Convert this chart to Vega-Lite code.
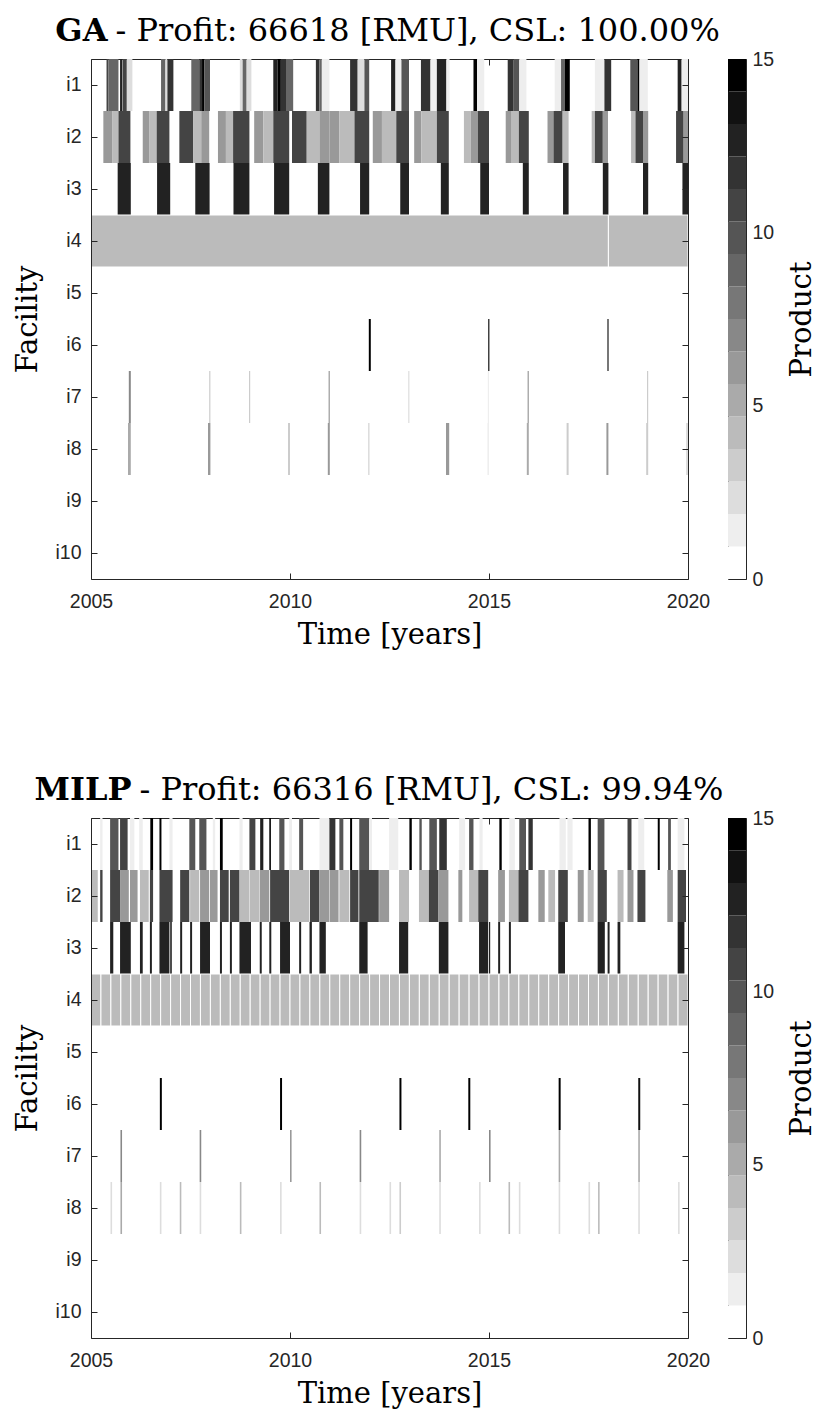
{
"$schema": "https://vega.github.io/schema/vega-lite/v6.json",
"background": "white",
"padding": {"left": 13, "top": 0, "right": 0, "bottom": 0},
"config": {
  "view": {"stroke": null},
  "axis": {"domainColor": "#262626", "tickColor": "#262626", "labelColor": "#262626", "titleColor": "#000000", "labelFont": "Liberation Sans", "labelFontSize": 19.5, "titleFont": "DejaVu Serif", "titleFontSize": 29, "titleFontWeight": "normal", "grid": false, "domainWidth": 1, "tickWidth": 1}
},
"datasets": {
"bands": [
{"lo":0,"hi":0.9375,"v":0},{"lo":0.9375,"hi":1.875,"v":1},{"lo":1.875,"hi":2.8125,"v":2},{"lo":2.8125,"hi":3.75,"v":3},{"lo":3.75,"hi":4.6875,"v":4},{"lo":4.6875,"hi":5.625,"v":5},{"lo":5.625,"hi":6.5625,"v":6},{"lo":6.5625,"hi":7.5,"v":7},{"lo":7.5,"hi":8.4375,"v":8},{"lo":8.4375,"hi":9.375,"v":9},{"lo":9.375,"hi":10.3125,"v":10},{"lo":10.3125,"hi":11.25,"v":11},{"lo":11.25,"hi":12.1875,"v":12},{"lo":12.1875,"hi":13.125,"v":13},{"lo":13.125,"hi":14.0625,"v":14},{"lo":14.0625,"hi":15,"v":15}
],
"ga": [
{"f":"i1","t0":2005.39,"t1":2005.44,"v":11},{"f":"i1","t0":2005.44,"t1":2005.69,"v":9},{"f":"i1","t0":2005.73,"t1":2005.78,"v":13},{"f":"i1","t0":2005.79,"t1":2005.90,"v":11},{"f":"i1","t0":2005.90,"t1":2006.04,"v":2},
{"f":"i1","t0":2006.76,"t1":2006.87,"v":9},{"f":"i1","t0":2006.87,"t1":2006.92,"v":2},{"f":"i1","t0":2006.92,"t1":2007.07,"v":12},
{"f":"i1","t0":2007.52,"t1":2007.72,"v":9},{"f":"i1","t0":2007.72,"t1":2007.79,"v":12},{"f":"i1","t0":2007.79,"t1":2007.85,"v":15},{"f":"i1","t0":2007.85,"t1":2007.99,"v":10},
{"f":"i1","t0":2008.74,"t1":2008.81,"v":2},{"f":"i1","t0":2008.81,"t1":2008.91,"v":9},{"f":"i1","t0":2008.91,"t1":2009.03,"v":2},
{"f":"i1","t0":2009.58,"t1":2009.69,"v":13},{"f":"i1","t0":2009.69,"t1":2009.77,"v":15},{"f":"i1","t0":2009.77,"t1":2009.90,"v":12},{"f":"i1","t0":2009.90,"t1":2010.08,"v":9},
{"f":"i1","t0":2010.65,"t1":2010.74,"v":12},{"f":"i1","t0":2010.74,"t1":2010.80,"v":9},{"f":"i1","t0":2010.80,"t1":2010.99,"v":1},
{"f":"i1","t0":2011.51,"t1":2011.70,"v":12},{"f":"i1","t0":2011.70,"t1":2011.87,"v":2},{"f":"i1","t0":2011.87,"t1":2011.99,"v":10},
{"f":"i1","t0":2012.54,"t1":2012.65,"v":13},{"f":"i1","t0":2012.65,"t1":2012.80,"v":1},{"f":"i1","t0":2012.80,"t1":2012.99,"v":10},
{"f":"i1","t0":2013.29,"t1":2013.53,"v":12},{"f":"i1","t0":2013.53,"t1":2013.69,"v":1},{"f":"i1","t0":2013.69,"t1":2013.93,"v":13},{"f":"i1","t0":2013.93,"t1":2014.01,"v":1},
{"f":"i1","t0":2014.61,"t1":2014.70,"v":15},{"f":"i1","t0":2014.70,"t1":2014.88,"v":1},
{"f":"i1","t0":2015.47,"t1":2015.62,"v":12},{"f":"i1","t0":2015.62,"t1":2015.76,"v":10},{"f":"i1","t0":2015.76,"t1":2015.94,"v":1},
{"f":"i1","t0":2016.65,"t1":2016.81,"v":1},{"f":"i1","t0":2016.81,"t1":2016.91,"v":9},{"f":"i1","t0":2016.91,"t1":2017.03,"v":15},
{"f":"i1","t0":2017.66,"t1":2017.90,"v":1},{"f":"i1","t0":2017.90,"t1":2018.07,"v":12},
{"f":"i1","t0":2018.55,"t1":2018.73,"v":10},{"f":"i1","t0":2018.73,"t1":2018.78,"v":15},{"f":"i1","t0":2018.78,"t1":2018.99,"v":1},
{"f":"i1","t0":2019.74,"t1":2019.84,"v":13},{"f":"i1","t0":2019.84,"t1":2020.00,"v":1},
{"f":"i2","t0":2005.31,"t1":2005.53,"v":6},{"f":"i2","t0":2005.53,"t1":2005.69,"v":4},{"f":"i2","t0":2005.69,"t1":2005.99,"v":11},
{"f":"i2","t0":2006.30,"t1":2006.46,"v":6},{"f":"i2","t0":2006.46,"t1":2006.65,"v":4},{"f":"i2","t0":2006.65,"t1":2006.97,"v":11},
{"f":"i2","t0":2007.22,"t1":2007.57,"v":11},{"f":"i2","t0":2007.57,"t1":2007.77,"v":4},{"f":"i2","t0":2007.77,"t1":2007.97,"v":6},
{"f":"i2","t0":2008.19,"t1":2008.39,"v":6},{"f":"i2","t0":2008.39,"t1":2008.57,"v":4},{"f":"i2","t0":2008.57,"t1":2008.98,"v":11},
{"f":"i2","t0":2009.10,"t1":2009.33,"v":6},{"f":"i2","t0":2009.33,"t1":2009.58,"v":4},{"f":"i2","t0":2009.58,"t1":2009.98,"v":11},
{"f":"i2","t0":2010.05,"t1":2010.42,"v":11},{"f":"i2","t0":2010.42,"t1":2010.74,"v":4},{"f":"i2","t0":2010.74,"t1":2010.99,"v":6},
{"f":"i2","t0":2010.99,"t1":2011.24,"v":6},{"f":"i2","t0":2011.24,"t1":2011.62,"v":4},{"f":"i2","t0":2011.62,"t1":2011.99,"v":11},
{"f":"i2","t0":2012.08,"t1":2012.31,"v":6},{"f":"i2","t0":2012.31,"t1":2012.67,"v":4},{"f":"i2","t0":2012.67,"t1":2012.99,"v":11},
{"f":"i2","t0":2013.12,"t1":2013.30,"v":6},{"f":"i2","t0":2013.30,"t1":2013.69,"v":4},{"f":"i2","t0":2013.69,"t1":2013.99,"v":11},
{"f":"i2","t0":2014.37,"t1":2014.54,"v":4},{"f":"i2","t0":2014.54,"t1":2014.72,"v":6},{"f":"i2","t0":2014.72,"t1":2015.00,"v":11},
{"f":"i2","t0":2015.42,"t1":2015.57,"v":6},{"f":"i2","t0":2015.57,"t1":2015.75,"v":4},{"f":"i2","t0":2015.75,"t1":2016.00,"v":11},
{"f":"i2","t0":2016.47,"t1":2016.62,"v":6},{"f":"i2","t0":2016.62,"t1":2016.85,"v":11},{"f":"i2","t0":2016.85,"t1":2017.00,"v":4},
{"f":"i2","t0":2017.58,"t1":2017.66,"v":4},{"f":"i2","t0":2017.66,"t1":2017.86,"v":11},{"f":"i2","t0":2017.86,"t1":2017.99,"v":6},
{"f":"i2","t0":2018.57,"t1":2018.68,"v":4},{"f":"i2","t0":2018.68,"t1":2018.87,"v":11},{"f":"i2","t0":2018.87,"t1":2019.00,"v":6},
{"f":"i2","t0":2019.70,"t1":2019.89,"v":11},{"f":"i2","t0":2019.89,"t1":2020.00,"v":6},
{"f":"i3","t0":2005.67,"t1":2006.00,"v":13},{"f":"i3","t0":2006.66,"t1":2006.99,"v":13},{"f":"i3","t0":2007.62,"t1":2007.98,"v":13},{"f":"i3","t0":2008.58,"t1":2008.98,"v":13},{"f":"i3","t0":2009.60,"t1":2009.98,"v":13},{"f":"i3","t0":2010.70,"t1":2010.99,"v":13},{"f":"i3","t0":2011.76,"t1":2011.99,"v":13},{"f":"i3","t0":2012.77,"t1":2012.99,"v":13},{"f":"i3","t0":2013.79,"t1":2013.99,"v":13},{"f":"i3","t0":2014.78,"t1":2015.00,"v":13},{"f":"i3","t0":2015.85,"t1":2016.00,"v":13},{"f":"i3","t0":2016.86,"t1":2017.00,"v":13},{"f":"i3","t0":2017.86,"t1":2018.00,"v":13},{"f":"i3","t0":2018.87,"t1":2019.00,"v":13},{"f":"i3","t0":2019.86,"t1":2020.00,"v":13},
{"f":"i4","t0":2005.00,"t1":2018.00,"v":4},{"f":"i4","t0":2018.00,"t1":2020.00,"v":4},
{"f":"i6","t0":2011.98,"t1":2012.03,"v":15},{"f":"i6","t0":2014.98,"t1":2015.01,"v":14},{"f":"i6","t0":2017.97,"t1":2018.01,"v":10},
{"f":"i7","t0":2005.95,"t1":2006.00,"v":7},{"f":"i7","t0":2007.97,"t1":2008.00,"v":3},{"f":"i7","t0":2008.97,"t1":2009.00,"v":3},{"f":"i7","t0":2010.97,"t1":2011.00,"v":6},{"f":"i7","t0":2012.97,"t1":2013.00,"v":2},{"f":"i7","t0":2014.97,"t1":2015.00,"v":1},{"f":"i7","t0":2015.97,"t1":2016.00,"v":6},{"f":"i7","t0":2018.97,"t1":2019.00,"v":3},
{"f":"i8","t0":2005.93,"t1":2006.00,"v":5},{"f":"i8","t0":2007.94,"t1":2008.00,"v":6},{"f":"i8","t0":2009.95,"t1":2010.00,"v":3},{"f":"i8","t0":2010.95,"t1":2011.00,"v":6},{"f":"i8","t0":2011.96,"t1":2012.00,"v":2},{"f":"i8","t0":2013.92,"t1":2014.00,"v":6},{"f":"i8","t0":2014.96,"t1":2015.00,"v":1},{"f":"i8","t0":2015.95,"t1":2016.00,"v":5},{"f":"i8","t0":2016.95,"t1":2017.00,"v":3},{"f":"i8","t0":2017.95,"t1":2018.00,"v":6},{"f":"i8","t0":2018.95,"t1":2019.00,"v":3},{"f":"i8","t0":2019.95,"t1":2020.00,"v":2}
],
"milp": [
{"f":"i1","t0":2005.23,"t1":2005.29,"v":1},{"f":"i1","t0":2005.48,"t1":2005.69,"v":10},{"f":"i1","t0":2005.73,"t1":2005.92,"v":11},{"f":"i1","t0":2005.98,"t1":2006.09,"v":1},{"f":"i1","t0":2006.21,"t1":2006.30,"v":1},{"f":"i1","t0":2006.49,"t1":2006.56,"v":15},{"f":"i1","t0":2006.72,"t1":2006.77,"v":15},{"f":"i1","t0":2006.97,"t1":2007.05,"v":1},{"f":"i1","t0":2007.47,"t1":2007.62,"v":10},{"f":"i1","t0":2007.72,"t1":2007.90,"v":10},{"f":"i1","t0":2008.06,"t1":2008.12,"v":1},{"f":"i1","t0":2008.24,"t1":2008.31,"v":15},{"f":"i1","t0":2008.73,"t1":2008.81,"v":1},{"f":"i1","t0":2008.98,"t1":2009.13,"v":11},{"f":"i1","t0":2009.25,"t1":2009.33,"v":13},{"f":"i1","t0":2009.48,"t1":2009.52,"v":15},{"f":"i1","t0":2009.73,"t1":2009.86,"v":10},{"f":"i1","t0":2009.98,"t1":2010.05,"v":1},{"f":"i1","t0":2010.23,"t1":2010.33,"v":10},{"f":"i1","t0":2010.74,"t1":2010.99,"v":1},{"f":"i1","t0":2010.99,"t1":2011.14,"v":12},{"f":"i1","t0":2011.24,"t1":2011.34,"v":10},{"f":"i1","t0":2011.51,"t1":2011.56,"v":15},{"f":"i1","t0":2011.74,"t1":2011.99,"v":10},{"f":"i1","t0":2011.99,"t1":2012.06,"v":1},
{"f":"i1","t0":2012.49,"t1":2012.72,"v":1},{"f":"i1","t0":2013.00,"t1":2013.06,"v":15},{"f":"i1","t0":2013.25,"t1":2013.31,"v":10},{"f":"i1","t0":2013.50,"t1":2013.69,"v":10},{"f":"i1","t0":2013.75,"t1":2013.94,"v":12},{"f":"i1","t0":2014.25,"t1":2014.40,"v":1},{"f":"i1","t0":2014.50,"t1":2014.61,"v":10},{"f":"i1","t0":2014.76,"t1":2014.84,"v":1},{"f":"i1","t0":2015.26,"t1":2015.32,"v":15},{"f":"i1","t0":2015.51,"t1":2015.65,"v":1},{"f":"i1","t0":2015.76,"t1":2015.93,"v":10},{"f":"i1","t0":2015.99,"t1":2016.10,"v":12},{"f":"i1","t0":2016.77,"t1":2016.93,"v":1},{"f":"i1","t0":2016.97,"t1":2017.10,"v":1},{"f":"i1","t0":2017.50,"t1":2017.56,"v":15},{"f":"i1","t0":2017.73,"t1":2017.90,"v":10},{"f":"i1","t0":2018.48,"t1":2018.58,"v":11},{"f":"i1","t0":2018.75,"t1":2018.90,"v":1},{"f":"i1","t0":2019.24,"t1":2019.29,"v":15},{"f":"i1","t0":2019.50,"t1":2019.57,"v":10},{"f":"i1","t0":2019.74,"t1":2019.91,"v":1},
{"f":"i2","t0":2005.00,"t1":2005.17,"v":4},{"f":"i2","t0":2005.23,"t1":2005.29,"v":11},{"f":"i2","t0":2005.48,"t1":2005.73,"v":11},{"f":"i2","t0":2005.73,"t1":2005.95,"v":6},{"f":"i2","t0":2005.98,"t1":2006.17,"v":6},{"f":"i2","t0":2006.23,"t1":2006.45,"v":4},{"f":"i2","t0":2006.48,"t1":2006.56,"v":11},{"f":"i2","t0":2006.72,"t1":2007.05,"v":11},{"f":"i2","t0":2007.24,"t1":2007.47,"v":11},{"f":"i2","t0":2007.49,"t1":2007.72,"v":4},{"f":"i2","t0":2007.74,"t1":2007.97,"v":6},{"f":"i2","t0":2007.99,"t1":2008.18,"v":6},{"f":"i2","t0":2008.24,"t1":2008.46,"v":11},{"f":"i2","t0":2008.49,"t1":2008.73,"v":11},{"f":"i2","t0":2008.74,"t1":2008.98,"v":4},{"f":"i2","t0":2008.99,"t1":2009.23,"v":4},{"f":"i2","t0":2009.24,"t1":2009.48,"v":6},{"f":"i2","t0":2009.50,"t1":2009.98,"v":11},{"f":"i2","t0":2010.00,"t1":2010.48,"v":4},{"f":"i2","t0":2010.50,"t1":2010.74,"v":11},{"f":"i2","t0":2010.75,"t1":2010.99,"v":6},{"f":"i2","t0":2011.00,"t1":2011.22,"v":6},{"f":"i2","t0":2011.24,"t1":2011.49,"v":4},{"f":"i2","t0":2011.51,"t1":2011.72,"v":11},{"f":"i2","t0":2011.74,"t1":2012.23,"v":11},{"f":"i2","t0":2012.24,"t1":2012.49,"v":6},
{"f":"i2","t0":2012.74,"t1":2012.99,"v":4},{"f":"i2","t0":2013.24,"t1":2013.49,"v":4},{"f":"i2","t0":2013.49,"t1":2013.73,"v":11},{"f":"i2","t0":2013.73,"t1":2013.98,"v":6},{"f":"i2","t0":2014.23,"t1":2014.33,"v":6},{"f":"i2","t0":2014.50,"t1":2014.73,"v":4},{"f":"i2","t0":2014.73,"t1":2014.98,"v":11},{"f":"i2","t0":2015.23,"t1":2015.40,"v":6},{"f":"i2","t0":2015.50,"t1":2015.74,"v":4},{"f":"i2","t0":2015.74,"t1":2015.99,"v":11},{"f":"i2","t0":2016.24,"t1":2016.40,"v":6},{"f":"i2","t0":2016.49,"t1":2016.66,"v":4},{"f":"i2","t0":2016.74,"t1":2016.98,"v":11},{"f":"i2","t0":2017.23,"t1":2017.38,"v":6},{"f":"i2","t0":2017.48,"t1":2017.63,"v":4},{"f":"i2","t0":2017.73,"t1":2017.96,"v":11},{"f":"i2","t0":2018.23,"t1":2018.38,"v":4},{"f":"i2","t0":2018.48,"t1":2018.63,"v":6},{"f":"i2","t0":2018.73,"t1":2018.93,"v":11},{"f":"i2","t0":2019.48,"t1":2019.62,"v":6},{"f":"i2","t0":2019.74,"t1":2019.95,"v":11},
{"f":"i3","t0":2005.48,"t1":2005.56,"v":13},{"f":"i3","t0":2005.73,"t1":2006.00,"v":13},{"f":"i3","t0":2006.23,"t1":2006.30,"v":13},{"f":"i3","t0":2006.48,"t1":2006.53,"v":13},{"f":"i3","t0":2006.72,"t1":2006.97,"v":13},{"f":"i3","t0":2006.99,"t1":2007.03,"v":13},{"f":"i3","t0":2007.24,"t1":2007.29,"v":13},{"f":"i3","t0":2007.49,"t1":2007.54,"v":13},{"f":"i3","t0":2007.74,"t1":2007.99,"v":13},{"f":"i3","t0":2008.24,"t1":2008.29,"v":13},{"f":"i3","t0":2008.49,"t1":2008.54,"v":13},{"f":"i3","t0":2008.73,"t1":2009.02,"v":13},{"f":"i3","t0":2009.24,"t1":2009.29,"v":13},{"f":"i3","t0":2009.48,"t1":2009.53,"v":13},{"f":"i3","t0":2009.75,"t1":2010.00,"v":13},{"f":"i3","t0":2010.23,"t1":2010.28,"v":13},{"f":"i3","t0":2010.49,"t1":2010.55,"v":13},{"f":"i3","t0":2010.74,"t1":2010.90,"v":13},{"f":"i3","t0":2011.74,"t1":2011.95,"v":13},{"f":"i3","t0":2012.74,"t1":2012.97,"v":13},{"f":"i3","t0":2013.74,"t1":2013.98,"v":13},{"f":"i3","t0":2014.75,"t1":2014.98,"v":13},{"f":"i3","t0":2015.00,"t1":2015.03,"v":13},{"f":"i3","t0":2015.23,"t1":2015.28,"v":13},{"f":"i3","t0":2015.50,"t1":2015.55,"v":13},{"f":"i3","t0":2016.74,"t1":2016.91,"v":13},{"f":"i3","t0":2017.73,"t1":2017.91,"v":13},{"f":"i3","t0":2017.98,"t1":2018.03,"v":13},{"f":"i3","t0":2018.23,"t1":2018.30,"v":13},{"f":"i3","t0":2019.74,"t1":2019.91,"v":13},
{"f":"i4","t0":2005.00,"t1":2005.25,"v":4},{"f":"i4","t0":2005.25,"t1":2005.50,"v":4},{"f":"i4","t0":2005.50,"t1":2005.75,"v":4},{"f":"i4","t0":2005.75,"t1":2006.00,"v":4},
{"f":"i4","t0":2006.00,"t1":2006.25,"v":4},{"f":"i4","t0":2006.25,"t1":2006.50,"v":4},{"f":"i4","t0":2006.50,"t1":2006.75,"v":4},{"f":"i4","t0":2006.75,"t1":2007.00,"v":4},
{"f":"i4","t0":2007.00,"t1":2007.25,"v":4},{"f":"i4","t0":2007.25,"t1":2007.50,"v":4},{"f":"i4","t0":2007.50,"t1":2007.75,"v":4},{"f":"i4","t0":2007.75,"t1":2008.00,"v":4},
{"f":"i4","t0":2008.00,"t1":2008.25,"v":4},{"f":"i4","t0":2008.25,"t1":2008.50,"v":4},{"f":"i4","t0":2008.50,"t1":2008.75,"v":4},{"f":"i4","t0":2008.75,"t1":2009.00,"v":4},
{"f":"i4","t0":2009.00,"t1":2009.25,"v":4},{"f":"i4","t0":2009.25,"t1":2009.50,"v":4},{"f":"i4","t0":2009.50,"t1":2009.75,"v":4},{"f":"i4","t0":2009.75,"t1":2010.00,"v":4},
{"f":"i4","t0":2010.00,"t1":2010.25,"v":4},{"f":"i4","t0":2010.25,"t1":2010.50,"v":4},{"f":"i4","t0":2010.50,"t1":2010.75,"v":4},{"f":"i4","t0":2010.75,"t1":2011.00,"v":4},
{"f":"i4","t0":2011.00,"t1":2011.25,"v":4},{"f":"i4","t0":2011.25,"t1":2011.50,"v":4},{"f":"i4","t0":2011.50,"t1":2011.75,"v":4},{"f":"i4","t0":2011.75,"t1":2012.00,"v":4},
{"f":"i4","t0":2012.00,"t1":2012.25,"v":4},{"f":"i4","t0":2012.25,"t1":2012.50,"v":4},{"f":"i4","t0":2012.50,"t1":2012.75,"v":4},{"f":"i4","t0":2012.75,"t1":2013.00,"v":4},
{"f":"i4","t0":2013.00,"t1":2013.25,"v":4},{"f":"i4","t0":2013.25,"t1":2013.50,"v":4},{"f":"i4","t0":2013.50,"t1":2013.75,"v":4},{"f":"i4","t0":2013.75,"t1":2014.00,"v":4},
{"f":"i4","t0":2014.00,"t1":2014.25,"v":4},{"f":"i4","t0":2014.25,"t1":2014.50,"v":4},{"f":"i4","t0":2014.50,"t1":2014.75,"v":4},{"f":"i4","t0":2014.75,"t1":2015.00,"v":4},
{"f":"i4","t0":2015.00,"t1":2015.25,"v":4},{"f":"i4","t0":2015.25,"t1":2015.50,"v":4},{"f":"i4","t0":2015.50,"t1":2015.75,"v":4},{"f":"i4","t0":2015.75,"t1":2016.00,"v":4},
{"f":"i4","t0":2016.00,"t1":2016.25,"v":4},{"f":"i4","t0":2016.25,"t1":2016.50,"v":4},{"f":"i4","t0":2016.50,"t1":2016.75,"v":4},{"f":"i4","t0":2016.75,"t1":2017.00,"v":4},
{"f":"i4","t0":2017.00,"t1":2017.25,"v":4},{"f":"i4","t0":2017.25,"t1":2017.50,"v":4},{"f":"i4","t0":2017.50,"t1":2017.75,"v":4},{"f":"i4","t0":2017.75,"t1":2018.00,"v":4},
{"f":"i4","t0":2018.00,"t1":2018.25,"v":4},{"f":"i4","t0":2018.25,"t1":2018.50,"v":4},{"f":"i4","t0":2018.50,"t1":2018.75,"v":4},{"f":"i4","t0":2018.75,"t1":2019.00,"v":4},
{"f":"i4","t0":2019.00,"t1":2019.25,"v":4},{"f":"i4","t0":2019.25,"t1":2019.50,"v":4},{"f":"i4","t0":2019.50,"t1":2019.75,"v":4},{"f":"i4","t0":2019.75,"t1":2020.00,"v":4},
{"f":"i6","t0":2006.73,"t1":2006.78,"v":15},{"f":"i6","t0":2009.75,"t1":2009.80,"v":15},{"f":"i6","t0":2012.75,"t1":2012.80,"v":15},{"f":"i6","t0":2014.48,"t1":2014.53,"v":15},{"f":"i6","t0":2016.75,"t1":2016.80,"v":15},{"f":"i6","t0":2018.75,"t1":2018.80,"v":14},
{"f":"i7","t0":2005.74,"t1":2005.78,"v":7},{"f":"i7","t0":2007.73,"t1":2007.77,"v":7},{"f":"i7","t0":2010.00,"t1":2010.04,"v":6},{"f":"i7","t0":2011.75,"t1":2011.79,"v":7},{"f":"i7","t0":2013.75,"t1":2013.79,"v":5},{"f":"i7","t0":2015.00,"t1":2015.04,"v":7},{"f":"i7","t0":2016.75,"t1":2016.79,"v":5},{"f":"i7","t0":2018.75,"t1":2018.79,"v":5},
{"f":"i8","t0":2005.49,"t1":2005.53,"v":2},{"f":"i8","t0":2005.74,"t1":2005.78,"v":5},{"f":"i8","t0":2006.73,"t1":2006.77,"v":2},{"f":"i8","t0":2007.23,"t1":2007.27,"v":4},{"f":"i8","t0":2007.73,"t1":2007.77,"v":2},{"f":"i8","t0":2008.74,"t1":2008.78,"v":4},{"f":"i8","t0":2009.75,"t1":2009.79,"v":2},{"f":"i8","t0":2010.74,"t1":2010.78,"v":4},{"f":"i8","t0":2011.75,"t1":2011.79,"v":2},{"f":"i8","t0":2012.50,"t1":2012.54,"v":2},{"f":"i8","t0":2012.75,"t1":2012.79,"v":3},{"f":"i8","t0":2013.75,"t1":2013.79,"v":2},{"f":"i8","t0":2014.75,"t1":2014.79,"v":2},{"f":"i8","t0":2015.49,"t1":2015.53,"v":4},{"f":"i8","t0":2015.75,"t1":2015.79,"v":2},{"f":"i8","t0":2016.75,"t1":2016.79,"v":2},{"f":"i8","t0":2017.50,"t1":2017.54,"v":2},{"f":"i8","t0":2017.74,"t1":2017.78,"v":4},{"f":"i8","t0":2018.75,"t1":2018.79,"v":2},{"f":"i8","t0":2019.75,"t1":2019.79,"v":2}
]
},
"vconcat": [
 {"vconcat": [
   {"width": 597, "height": 48, "data": {"values": [{}]}, "layer": [
     {"mark": {"type": "text", "text": "GA", "font": "DejaVu Serif", "fontSize": 32, "fontWeight": "bold", "align": "right", "baseline": "middle", "dx": -282, "dy": 7, "color": "#000000"}},
     {"mark": {"type": "text", "text": "- Profit: 66618 [RMU], CSL: 100.00%", "font": "DejaVu Serif", "fontSize": 32, "align": "left", "baseline": "middle", "dx": -274, "dy": 7, "color": "#000000"}}
   ]},
   {"hconcat": [
     {"width": 597, "height": 520, "data": {"name": "ga"}, "layer": [
       {"mark": {"type": "rect", "stroke": "white"},
        "encoding": {
          "x": {"field": "t0", "type": "quantitative", "scale": {"domain": [2005, 2020], "nice": false, "zero": false}, "axis": {"orient": "bottom", "values": [2005, 2010, 2015, 2020], "format": "d", "tickSize": -6, "labelPadding": 19, "labelFlush": false, "title": "Time [years]", "titlePadding": 10}},
          "x2": {"field": "t1"},
          "y": {"field": "f", "type": "nominal", "scale": {"domain": ["i1","i2","i3","i4","i5","i6","i7","i8","i9","i10"], "paddingInner": 0, "paddingOuter": 0}, "axis": {"orient": "left", "tickSize": -6, "labelPadding": 16, "title": "Facility", "titlePadding": 12}},
          "color": {"field": "v", "type": "quantitative", "scale": {"domain": [0, 15], "range": ["#ffffff", "#000000"], "interpolate": "rgb"}, "legend": null},
          "strokeWidth": {"condition": {"test": "datum.f === 'i4'", "value": 1}, "value": 0}
        }},
       {"mark": {"type": "rect", "opacity": 0},
        "encoding": {
          "x": {"field": "t0", "type": "quantitative", "axis": {"orient": "top", "values": [2005, 2010, 2015, 2020], "tickSize": -6, "labels": false, "title": null}},
          "x2": {"field": "t1"},
          "y": {"field": "f", "type": "nominal", "axis": {"orient": "right", "tickSize": -6, "labels": false, "title": null}}
        }}
     ],
     "resolve": {"axis": {"x": "independent", "y": "independent"}}},
     {"width": 18, "height": 520, "data": {"name": "bands"}, "view": {"stroke": "#262626", "strokeWidth": 1},
      "mark": {"type": "rect"},
      "encoding": {
        "y": {"field": "lo", "type": "quantitative", "scale": {"domain": [0, 15], "nice": false, "zero": false}, "axis": {"orient": "right", "values": [0, 5, 10, 15], "tickSize": -4, "labelPadding": 10, "domain": false, "title": "Product", "titleAngle": 270, "titleBaseline": "top", "titlePadding": 14}},
        "y2": {"field": "hi"},
        "color": {"field": "v", "type": "quantitative", "scale": {"domain": [0, 15], "range": ["#ffffff", "#000000"], "interpolate": "rgb"}, "legend": null}
      }}
   ], "spacing": 17}
 ], "spacing": 0},
 {"vconcat": [
   {"width": 597, "height": 48, "data": {"values": [{}]}, "layer": [
     {"mark": {"type": "text", "text": "MILP", "font": "DejaVu Serif", "fontSize": 32, "fontWeight": "bold", "align": "right", "baseline": "middle", "dx": -258, "dy": 7, "color": "#000000"}},
     {"mark": {"type": "text", "text": "- Profit: 66316 [RMU], CSL: 99.94%", "font": "DejaVu Serif", "fontSize": 32, "align": "left", "baseline": "middle", "dx": -250, "dy": 7, "color": "#000000"}}
   ]},
   {"hconcat": [
     {"width": 597, "height": 520, "data": {"name": "milp"}, "layer": [
       {"mark": {"type": "rect", "stroke": "white"},
        "encoding": {
          "x": {"field": "t0", "type": "quantitative", "scale": {"domain": [2005, 2020], "nice": false, "zero": false}, "axis": {"orient": "bottom", "values": [2005, 2010, 2015, 2020], "format": "d", "tickSize": -6, "labelPadding": 19, "labelFlush": false, "title": "Time [years]", "titlePadding": 10}},
          "x2": {"field": "t1"},
          "y": {"field": "f", "type": "nominal", "scale": {"domain": ["i1","i2","i3","i4","i5","i6","i7","i8","i9","i10"], "paddingInner": 0, "paddingOuter": 0}, "axis": {"orient": "left", "tickSize": -6, "labelPadding": 16, "title": "Facility", "titlePadding": 12}},
          "color": {"field": "v", "type": "quantitative", "scale": {"domain": [0, 15], "range": ["#ffffff", "#000000"], "interpolate": "rgb"}, "legend": null},
          "strokeWidth": {"condition": {"test": "datum.f === 'i4'", "value": 1}, "value": 0}
        }},
       {"mark": {"type": "rect", "opacity": 0},
        "encoding": {
          "x": {"field": "t0", "type": "quantitative", "axis": {"orient": "top", "values": [2005, 2010, 2015, 2020], "tickSize": -6, "labels": false, "title": null}},
          "x2": {"field": "t1"},
          "y": {"field": "f", "type": "nominal", "axis": {"orient": "right", "tickSize": -6, "labels": false, "title": null}}
        }}
     ],
     "resolve": {"axis": {"x": "independent", "y": "independent"}}},
     {"width": 18, "height": 520, "data": {"name": "bands"}, "view": {"stroke": "#262626", "strokeWidth": 1},
      "mark": {"type": "rect"},
      "encoding": {
        "y": {"field": "lo", "type": "quantitative", "scale": {"domain": [0, 15], "nice": false, "zero": false}, "axis": {"orient": "right", "values": [0, 5, 10, 15], "tickSize": -4, "labelPadding": 10, "domain": false, "title": "Product", "titleAngle": 270, "titleBaseline": "top", "titlePadding": 14}},
        "y2": {"field": "hi"},
        "color": {"field": "v", "type": "quantitative", "scale": {"domain": [0, 15], "range": ["#ffffff", "#000000"], "interpolate": "rgb"}, "legend": null}
      }}
   ], "spacing": 17}
 ], "spacing": 0}
],
"spacing": 109
}
